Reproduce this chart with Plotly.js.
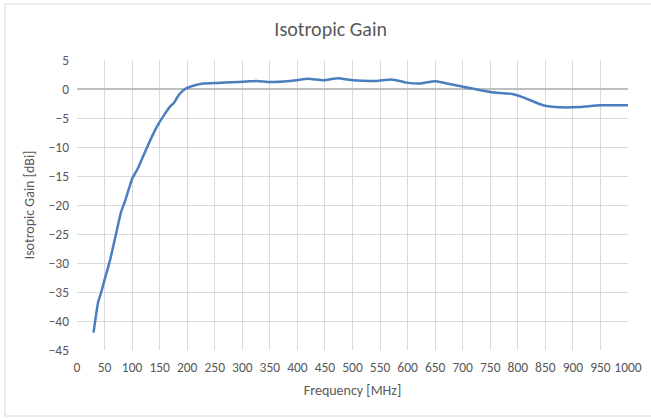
<!DOCTYPE html>
<html>
<head>
<meta charset="utf-8">
<script src="https://cdn.plot.ly/plotly-3.0.1.min.js"></script>
<style>
html,body{margin:0;padding:0;background:#fff;}
#chart{width:651px;height:419px;}
</style>
</head>
<body>
<div id="chart"></div>
<script>
var frequency = [30, 38, 45, 50, 60, 75, 80, 88, 100, 110, 125, 145, 160, 170, 175, 185, 196, 211, 229, 256, 280, 308, 326, 350, 387, 420, 447, 474, 501, 544, 571, 598, 622, 650, 695, 750, 792, 810, 846, 877, 913, 949, 1000];
var gain = [-42.0, -36.9, -34.7, -32.9, -29.5, -23.2, -21.2, -19.1, -15.5, -13.8, -10.5, -6.5, -4.2, -2.9, -2.5, -1.0, 0.0, 0.57, 0.95, 1.05, 1.15, 1.3, 1.4, 1.2, 1.4, 1.75, 1.5, 1.85, 1.5, 1.4, 1.65, 1.1, 0.95, 1.35, 0.5, -0.5, -0.9, -1.45, -2.8, -3.15, -3.1, -2.8, -2.8];
var chartTitle = 'Isotropic Gain';
var xTitle = 'Frequency [MHz]';
var yTitle = 'Isotropic Gain [dBi]';

var fontFam = 'Carlito, Lato, "Open Sans", sans-serif';
var trace = {
  x: frequency, y: gain, type: 'scatter', mode: 'lines',
  line: {color: '#4A7EBF', width: 2.5, shape: 'spline', smoothing: 0.4},
  hoverinfo: 'x+y'
};
var layout = {
  width: 651, height: 419,
  margin: {l: 77, r: 23, t: 60, b: 69},
  paper_bgcolor: '#fff', plot_bgcolor: '#fff',
  showlegend: false,
  title: {text: chartTitle, x: 0.508, xref: 'container', y: 0.93, yref: 'container', yanchor: 'middle',
          font: {family: fontFam, size: 20, color: '#595959'}},
  xaxis: {
    range: [0, 1000], dtick: 50, tick0: 0, showgrid: true, gridcolor: '#d9d9d9', gridwidth: 1,
    zeroline: false, showline: false, ticks: '', ticklen: 0, ticklabelstandoff: 7,
    tickfont: {family: fontFam, size: 13.5, color: '#595959'},
    title: {text: xTitle, font: {family: fontFam, size: 14, color: '#595959'}, standoff: 10}
  },
  yaxis: {
    range: [-45, 5], dtick: 5, tick0: 0, showgrid: true, gridcolor: '#d9d9d9', gridwidth: 1,
    zeroline: true, zerolinecolor: '#bfbfbf', zerolinewidth: 1.2, showline: false, ticks: '',
    ticklabelstandoff: 7,
    tickfont: {family: fontFam, size: 13.5, color: '#595959'},
    title: {text: yTitle, font: {family: fontFam, size: 14, color: '#595959'}, standoff: 10}
  },
  shapes: [{
    type: 'rect', xref: 'paper', yref: 'paper',
    x0: (5 - 77) / 551, x1: (652 - 77) / 551,
    y0: (350 - 416) / 290, y1: (350 - 4) / 290,
    line: {color: '#d9d9d9', width: 1}, fillcolor: 'rgba(0,0,0,0)', layer: 'below'
  }]
};
Plotly.newPlot('chart', [trace], layout, {staticPlot: true, displayModeBar: false});
</script>
</body>
</html>
